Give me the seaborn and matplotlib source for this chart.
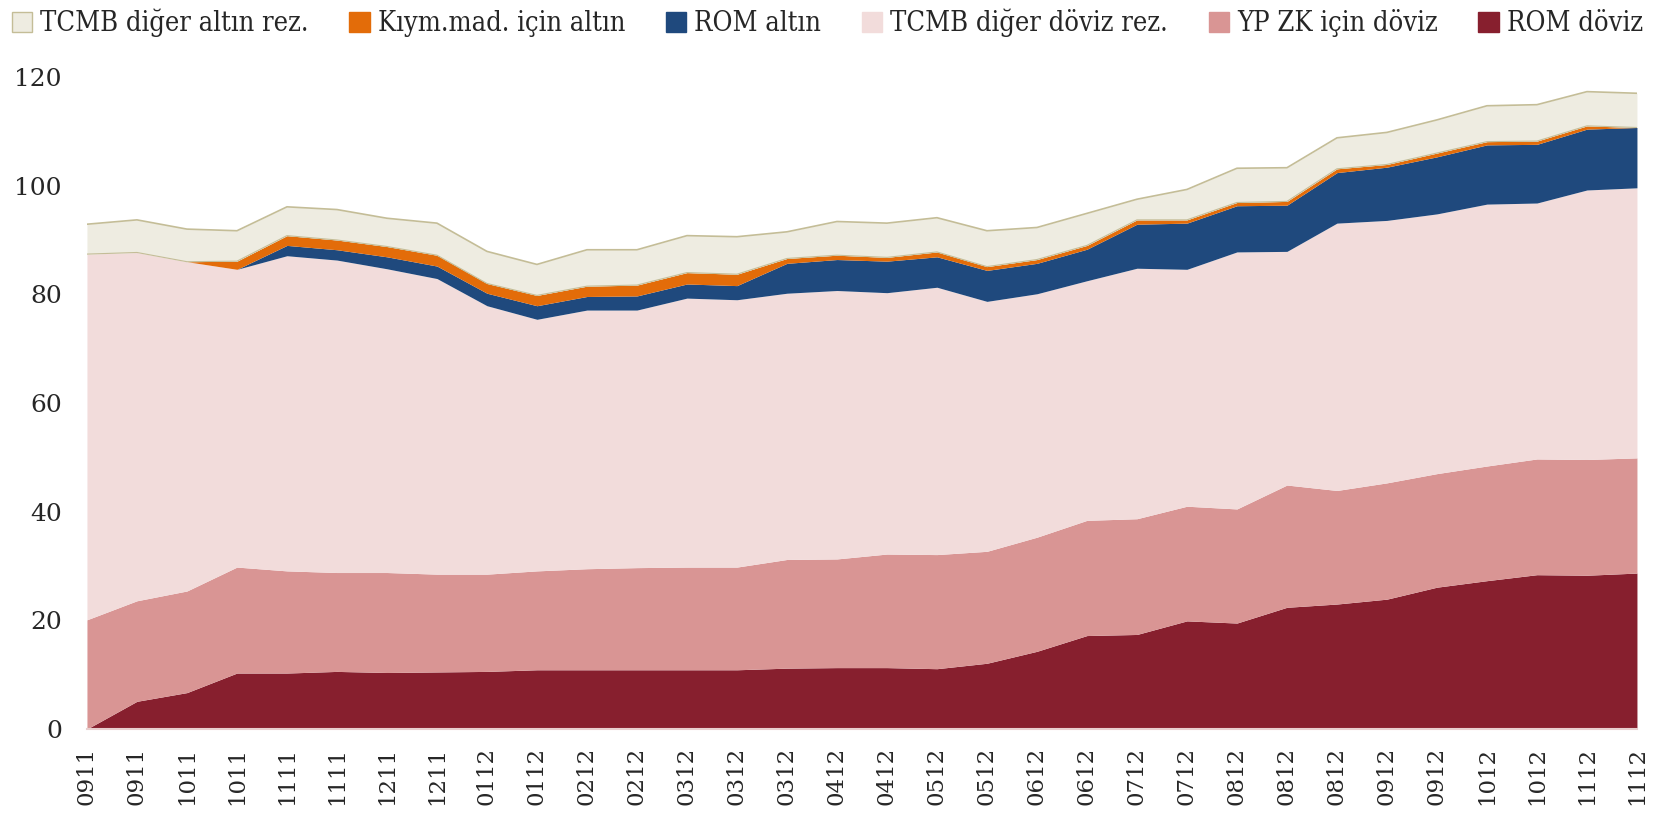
import matplotlib
matplotlib.use('Agg')
import matplotlib.pyplot as plt
import numpy as np
import seaborn as sns
from matplotlib.patches import Patch

# Period labels along the x axis (as printed on the chart)
periods = ['0911', '0911', '1011', '1011', '1111', '1111', '1211', '1211',
           '0112', '0112', '0212', '0212', '0312', '0312', '0312', '0412',
           '0412', '0512', '0512', '0612', '0612', '0712', '0712', '0812',
           '0812', '0812', '0912', '0912', '1012', '1012', '1112', '1112']

# Series values (billion USD), bottom to top of the stack
rom_doviz = [0.0, 5.1, 6.7, 10.3, 10.3, 10.6, 10.4, 10.5, 10.6, 10.9, 10.9, 10.9,
             10.9, 10.9, 11.2, 11.3, 11.3, 11.1, 12.1, 14.3, 17.2, 17.4, 19.9, 19.5,
             22.4, 23.0, 23.9, 26.1, 27.3, 28.4, 28.3, 28.7]
yp_zk_doviz = [20.1, 18.5, 18.7, 19.5, 18.8, 18.2, 18.4, 18.0, 17.9, 18.2, 18.6, 18.8,
               18.9, 18.9, 20.0, 20.0, 20.9, 21.0, 20.6, 21.0, 21.2, 21.3, 21.1, 21.0,
               22.5, 20.9, 21.4, 20.9, 21.1, 21.3, 21.3, 21.2]
tcmb_doviz = [67.3, 64.1, 60.6, 54.8, 58.0, 57.5, 55.9, 54.4, 49.4, 46.3, 47.6, 47.4,
              49.5, 49.2, 49.0, 49.4, 48.1, 49.2, 46.0, 44.8, 44.1, 46.1, 43.6, 47.3,
              43.0, 49.2, 48.3, 47.8, 48.2, 47.1, 49.6, 49.7]
rom_altin = [0.0, 0.0, 0.0, 0.0, 1.9, 1.9, 2.2, 2.3, 2.3, 2.5, 2.5, 2.6,
             2.6, 2.6, 5.5, 5.7, 5.8, 5.6, 5.7, 5.6, 5.8, 8.1, 8.5, 8.5,
             8.5, 9.3, 9.8, 10.5, 10.9, 10.8, 11.2, 11.1]
kiymet_altin = [0.0, 0.0, 0.0, 1.5, 1.8, 1.8, 1.9, 2.0, 1.8, 1.9, 1.9, 2.0,
                2.1, 2.1, 0.9, 0.8, 0.7, 0.9, 0.7, 0.7, 0.7, 0.8, 0.6, 0.6,
                0.7, 0.7, 0.5, 0.7, 0.6, 0.6, 0.6, 0.0]
tcmb_altin = [5.5, 6.0, 6.0, 5.6, 5.3, 5.6, 5.2, 5.9, 5.9, 5.7, 6.7, 6.5,
              6.8, 6.9, 4.9, 6.2, 6.3, 6.3, 6.6, 5.9, 5.9, 3.8, 5.6, 6.3,
              6.2, 5.7, 5.9, 6.1, 6.6, 6.7, 6.3, 6.3]

names = ['ROM döviz', 'YP ZK için döviz', 'TCMB diğer döviz rez.',
         'ROM altın', 'Kıym.mad. için altın', 'TCMB diğer altın rez.']
colors = ['#871F2E', '#D99594', '#F2DCDB', '#1F497D', '#E36C09', '#EEECE1']

sns.set_theme(style='white')
plt.rcParams['font.family'] = ['DejaVu Serif']

fig = plt.figure(figsize=(16.69, 8.17), dpi=100)
ax = fig.add_axes([0.0521, 0.1077, 0.9287, 0.7981])

x = np.arange(len(periods))
series = [rom_doviz, yp_zk_doviz, tcmb_doviz, rom_altin, kiymet_altin, tcmb_altin]
ax.stackplot(x, *series, colors=colors, linewidth=0)

# thin tan outline around the top (gold reserve) band
top = np.sum(series, axis=0)
below = top - np.array(tcmb_altin)
sns.lineplot(x=x, y=top, ax=ax, color='#C4BD97', linewidth=1.2)
sns.lineplot(x=x, y=below, ax=ax, color='#C4BD97', linewidth=0.8)

ax.set_xlim(0, len(periods) - 1)
ax.set_ylim(0, 120)
ax.set_yticks(range(0, 121, 20))
ax.set_xticks(x)
ax.set_xticklabels(periods, rotation=90)
ax.tick_params(axis='y', labelsize=18, pad=18, length=0)
ax.tick_params(axis='x', labelsize=16.5, pad=13, length=0)

for s in ['top', 'right', 'left']:
    ax.spines[s].set_visible(False)
ax.spines['bottom'].set_color('#E8CFCF')
ax.spines['bottom'].set_linewidth(1.5)

handles = []
for n, c in zip(names[::-1], colors[::-1]):
    ec = '#C4BD97' if c == '#EEECE1' else c
    handles.append(Patch(facecolor=c, edgecolor=ec, label=n))
fig.legend(handles=handles, loc='upper center', bbox_to_anchor=(0.4958, 1.019),
           ncol=6, frameon=False, handlelength=0.75, handleheight=0.75,
           handletextpad=0.3, columnspacing=1.5,
           prop={'family': 'DejaVu Serif', 'stretch': 'condensed', 'size': 19.5})

fig.savefig('out.png', dpi=100)
